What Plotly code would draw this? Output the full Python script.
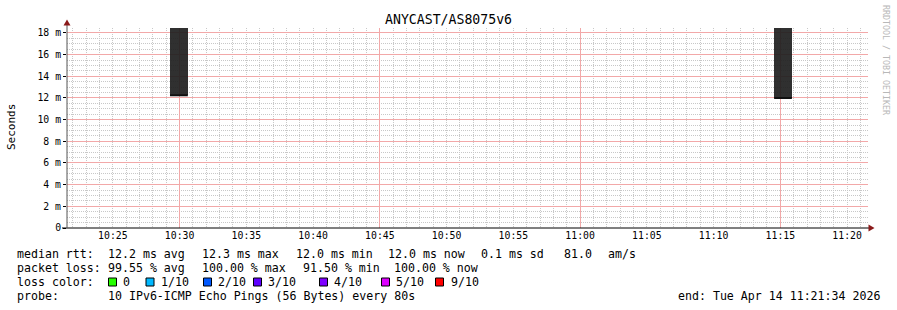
import plotly.graph_objects as go
import pandas as pd

# ---------------- data ----------------
title = "ANYCAST/AS8075v6"
t_start = "2026-04-14 10:21:34"
t_end = "2026-04-14 11:21:34"
x_tick_times = ["2026-04-14 10:25", "2026-04-14 10:30", "2026-04-14 10:35", "2026-04-14 10:40",
                "2026-04-14 10:45", "2026-04-14 10:50", "2026-04-14 10:55", "2026-04-14 11:00",
                "2026-04-14 11:05", "2026-04-14 11:10", "2026-04-14 11:15", "2026-04-14 11:20"]
x_tick_labels = ["10:25", "10:30", "10:35", "10:40", "10:45", "10:50",
                 "10:55", "11:00", "11:05", "11:10", "11:15", "11:20"]
x_major_grid = ["2026-04-14 10:30", "2026-04-14 10:45", "2026-04-14 11:00", "2026-04-14 11:15"]
y_tick_vals = [0, 2, 4, 6, 8, 10, 12, 14, 16, 18]          # ms
y_tick_labels = ["0", "2 m", "4 m", "6 m", "8 m", "10 m", "12 m", "14 m", "16 m", "18 m"]
y_max = 18.46

smoke_start = ["2026-04-14 10:29:17", "2026-04-14 11:14:32"]
smoke_end = ["2026-04-14 10:30:37", "2026-04-14 11:15:52"]
median_ms = [12.25, 12.0]
smoke_top_ms = [18.5, 18.5]

rtt_label = "median rtt:"
rtt_items = ["12.2 ms avg", "12.3 ms max", "12.0 ms min", "12.0 ms now", "0.1 ms sd", "81.0", "am/s"]
loss_label = "packet loss:"
loss_items = ["99.55 % avg", "100.00 % max", "91.50 % min", "100.00 % now"]
color_label = "loss color:"
color_items = ["0", "1/10", "2/10", "3/10", "4/10", "5/10", "9/10"]
color_values = ["#26ff00", "#00b8ff", "#0059ff", "#5e00ff", "#7e00ff", "#dd00ff", "#ff0000"]
probe_label = "probe:"
probe_text = "10 IPv6-ICMP Echo Pings (56 Bytes) every 80s"
end_text = "end: Tue Apr 14 11:21:34 2026"
watermark = "RRDTOOL / TOBI OETIKER"

# ---------------- layout geometry ----------------
W, H = 897, 310
L, R, T, B = 67, 868, 28, 228
PW, PH = R - L, B - T
def px(x): return (x - L) / PW
def py(y): return (B - y) / PH

MONO = "DejaVu Sans Mono"
FS = 11.6
MAJOR = "#f2a8a8"
MINOR = "#c8c8c8"
DOT = "1px,1px"

# minor grid positions (every minute / every 0.5 ms), excluding major grid positions
major_x_ts = set(pd.to_datetime(x_major_grid))
minor_x = [t for t in pd.date_range("2026-04-14 10:22", "2026-04-14 11:21", freq="1min")
           if t not in major_x_ts]
minor_y = [k / 2 for k in range(1, 37) if k % 4 != 0]

s = pd.to_datetime(smoke_start)
e = pd.to_datetime(smoke_end)
mid = s + (e - s) / 2
width_ms = [(b - a).total_seconds() * 1000 for a, b in zip(s, e)]

fig = go.Figure()
fig.add_trace(go.Bar(
    x=mid, y=[t - m for t, m in zip(smoke_top_ms, median_ms)], base=median_ms,
    width=width_ms, marker=dict(color="rgba(30,30,30,0.92)", line=dict(width=0)),
    showlegend=False, hoverinfo="skip"))
for a, b, m in zip(s, e, median_ms):
    fig.add_trace(go.Scatter(x=[a, b], y=[m, m], mode="lines", xaxis="x2",
                             line=dict(color="#111111", width=2),
                             showlegend=False, hoverinfo="skip"))

rng = [t_start, t_end]
fig.update_layout(
    width=W, height=H, margin=dict(l=L, r=W - R, t=T, b=H - B, pad=0),
    paper_bgcolor="white", plot_bgcolor="white", bargap=0,
    font=dict(family=MONO, size=10, color="#000"),
    xaxis=dict(type="date", range=rng, tickvals=x_major_grid,
               showticklabels=False, ticks="", showgrid=True, gridcolor=MAJOR,
               griddash="solid", gridwidth=1, zeroline=False, showline=False,
               minor=dict(tickmode="array", tickvals=minor_x, showgrid=True,
                          gridcolor=MINOR, griddash=DOT, gridwidth=1)),
    xaxis2=dict(type="date", range=rng, overlaying="x", anchor="y", side="bottom",
                tickvals=x_tick_times, ticktext=x_tick_labels, showgrid=False,
                zeroline=False, showline=False, ticks="",
                tickfont=dict(family=MONO, size=9.8, color="#000")),
    yaxis=dict(range=[0, y_max], tickvals=y_tick_vals, ticktext=y_tick_labels,
               showgrid=True, gridcolor=MAJOR, griddash="solid", gridwidth=1,
               zeroline=False, showline=False, ticks="outside", ticklen=3,
               tickcolor="#000", tickfont=dict(family=MONO, size=9.8, color="#000"),
               minor=dict(tickmode="array", tickvals=minor_y, showgrid=True,
                          gridcolor=MINOR, griddash=DOT, gridwidth=1)),
)

shapes = []
# axis lines (extend beyond plot like rrdtool)
shapes.append(dict(type="line", xref="paper", yref="paper", x0=px(62), x1=px(870),
                   y0=0, y1=0, line=dict(color="#000", width=1)))
shapes.append(dict(type="line", xref="paper", yref="paper", x0=0, x1=0,
                   y0=py(228), y1=py(23), line=dict(color="#555", width=1)))
# arrows
ar = "#8b1a1a"
shapes.append(dict(type="path", xref="paper", yref="paper",
                   path=f"M {px(868.5)},{py(224.5)} L {px(874.5)},{py(228)} L {px(868.5)},{py(231.5)} Z",
                   fillcolor=ar, line=dict(color=ar, width=0)))
shapes.append(dict(type="path", xref="paper", yref="paper",
                   path=f"M {px(63.5)},{py(25.5)} L {px(67)},{py(19.5)} L {px(70.5)},{py(25.5)} Z",
                   fillcolor=ar, line=dict(color=ar, width=0)))

ann = []
def txt(x, y, t, size=FS, anchor="left", color="#000", angle=0):
    ann.append(dict(xref="paper", yref="paper", x=px(x), y=py(y), text=t.replace(" ", "\u00a0"),
                    showarrow=False, xanchor=anchor, yanchor="middle", textangle=angle,
                    font=dict(family=MONO, size=size, color=color), borderpad=0))

txt(448, 19.5, title, size=13.2, anchor="center")
txt(11, 127, "Seconds", size=11, anchor="center", angle=-90)
txt(886, 60, watermark, size=8.3, anchor="center", color="#b8b8b8", angle=90)

y1, y2, y3, y4 = 254, 268, 282, 296
txt(16, y1, rtt_label)
for t, x in zip(rtt_items, [107, 200.5, 294.5, 387, 480, 563, 607]):
    txt(x, y1, t)
txt(16, y2, loss_label)
for t, x in zip(loss_items, [107, 200.5, 301.5, 393]):
    txt(x, y2, t)
txt(16, y3, color_label)
sq_x = [108.5, 146, 203.5, 253.5, 319.5, 381.5, 435.5]
lab_x = [122, 160, 217, 267, 333, 395, 450]
for t, c, sx, lx in zip(color_items, color_values, sq_x, lab_x):
    shapes.append(dict(type="rect", xref="paper", yref="paper", x0=px(sx), x1=px(sx + 8),
                       y0=py(286), y1=py(278), fillcolor=c, line=dict(color="#000", width=1)))
    txt(lx, y3, t)
txt(16, y4, probe_label)
txt(107, y4, probe_text)
txt(881, y4, end_text, anchor="right")

fig.update_layout(shapes=shapes, annotations=ann)
fig.write_html("out.html")
